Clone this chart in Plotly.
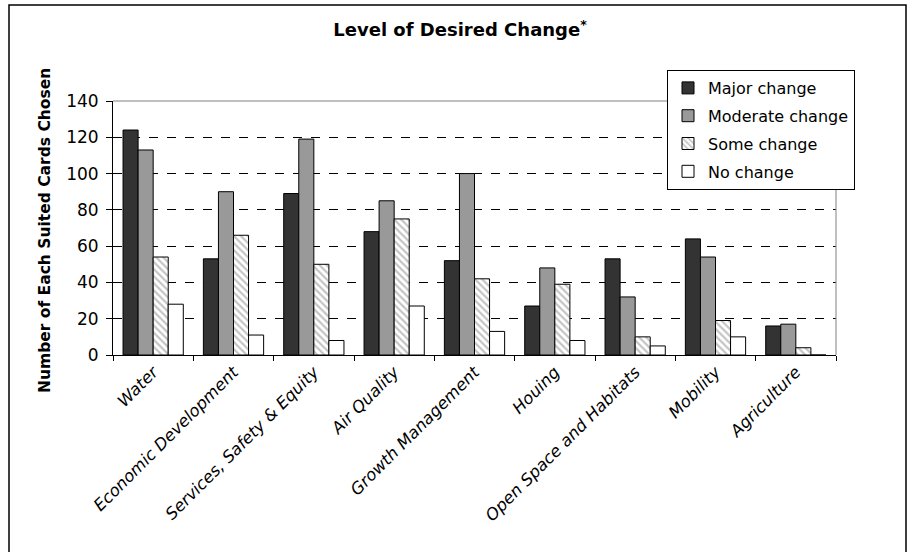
import plotly.graph_objects as go

categories = ["Water", "Economic Development", "Services, Safety & Equity", "Air Quality",
              "Growth Management", "Houing", "Open Space and Habitats", "Mobility", "Agriculture"]
major = [124, 53, 89, 68, 52, 27, 53, 64, 16]
moderate = [113, 90, 119, 85, 100, 48, 32, 54, 17]
some = [54, 66, 50, 75, 42, 39, 10, 19, 4]
no_change = [28, 11, 8, 27, 13, 8, 5, 10, 0]
y_ticks = [0, 20, 40, 60, 80, 100, 120, 140]

FONT = "DejaVu Sans"
W, H = 911, 552
L, R, T, B = 113, 75, 101, 197
PW, PH = W - L - R, H - T - B


def px_x(p):
    return (p - L) / PW


def px_y(p):
    return (H - B - p) / PH


outline = dict(color="black", width=1)
fig = go.Figure()
fig.add_bar(name="Major change", x=categories, y=major, legendgroup="a",
            marker=dict(color="#333333", line=outline))
fig.add_bar(name="Moderate change", x=categories, y=moderate, legendgroup="b",
            marker=dict(color="#999999", line=outline))
fig.add_bar(name="Some change", x=categories, y=some, legendgroup="c",
            marker=dict(color="white", line=outline,
                        pattern=dict(shape="\\", fgcolor="#8a8a8a", bgcolor="white",
                                     size=5, solidity=0.45)))
fig.add_bar(name="No change", x=categories, y=no_change, legendgroup="d",
            marker=dict(color="white", line=outline))

fig.update_layout(
    width=W, height=H,
    margin=dict(l=L, r=R, t=T, b=B, autoexpand=False),
    paper_bgcolor="white", plot_bgcolor="white",
    barmode="group", bargap=0.25, bargroupgap=0,
    font=dict(family=FONT, color="black"),
    title=dict(text="<b>Level of Desired Change<sup>*</sup></b>", x=0.505, xref="container",
               y=1 - 30 / H, yref="container", xanchor="center", yanchor="middle",
               font=dict(size=18, family=FONT)),
    showlegend=True,
    legend=dict(x=px_x(667), y=px_y(70), xanchor="left", yanchor="top",
                bordercolor="black", borderwidth=1, bgcolor="white",
                font=dict(size=16, family=FONT), traceorder="grouped",
                itemwidth=30, tracegroupgap=4),
    xaxis=dict(showline=True, linecolor="black", linewidth=1, tickson="boundaries",
               ticks="outside", ticklen=5, tickcolor="black", tickangle=-45,
               automargin=False,
               tickfont=dict(size=16.5, family=FONT, style="italic"), showgrid=False),
    yaxis=dict(range=[0, 140], tickvals=y_ticks, showline=True, linecolor="black",
               linewidth=1, ticks="outside", ticklen=6, tickcolor="black",
               automargin=False, ticklabelstandoff=4,
               tickfont=dict(size=17, family=FONT), showgrid=True, gridcolor="black",
               griddash="dash", gridwidth=1, zeroline=False),
    shapes=[
        # plot-area frame (top and right edges)
        dict(type="line", xref="paper", yref="paper", x0=0, x1=1, y0=1, y1=1,
             line=dict(color="#808080", width=1)),
        dict(type="line", xref="paper", yref="paper", x0=1, x1=1, y0=0, y1=1,
             line=dict(color="#808080", width=1)),
        # outer chart border
        dict(type="rect", xref="paper", yref="paper", x0=px_x(9), x1=px_x(906),
             y0=px_y(560), y1=px_y(5), line=dict(color="black", width=1.5),
             fillcolor="rgba(0,0,0,0)", layer="below"),
    ],
    annotations=[
        dict(text="<b>Number of Each Suited Cards Chosen</b>", textangle=-90,
             xref="paper", yref="paper", x=px_x(45), y=px_y(231),
             xanchor="center", yanchor="middle", showarrow=False,
             font=dict(size=15.5, family=FONT)),
    ],
)

fig.write_html("out.html")
